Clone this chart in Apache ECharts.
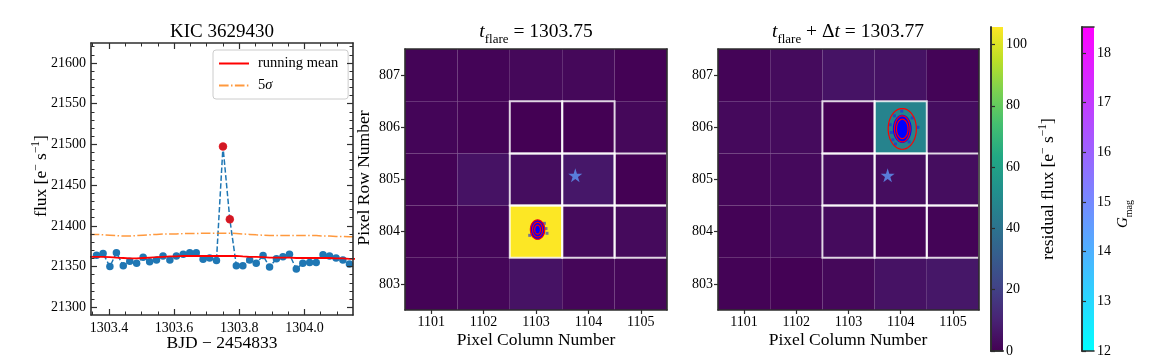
<!DOCTYPE html>
<html><head><meta charset="utf-8">
<script src="https://cdn.jsdelivr.net/npm/echarts@6/dist/echarts.min.js"></script>
<style>html,body{margin:0;padding:0;background:#fff}#c{width:1152px;height:360px}</style>
</head><body><div id="c"></div>
<script>
// ---------------- DATA ----------------
const times = [1303.362,1303.382,1303.403,1303.423,1303.444,1303.464,1303.485,1303.505,1303.525,1303.546,1303.566,1303.587,1303.607,1303.628,1303.648,1303.668,1303.689,1303.709,1303.730,1303.750,1303.771,1303.791,1303.811,1303.832,1303.852,1303.873,1303.893,1303.914,1303.934,1303.954,1303.975,1303.995,1304.016,1304.036,1304.057,1304.077,1304.097,1304.118,1304.138];
const flux = [21364,21366,21350,21367,21351,21356.5,21354,21361.5,21356,21358,21363,21358,21363,21365,21367,21367,21359,21360.5,21357.5,21497.5,21408,21351,21351,21358,21354,21363.5,21349.5,21359.5,21362,21365,21347,21354,21355,21355,21364.5,21363,21360.5,21358,21353];
const flareTimes = [1303.750, 1303.771];
const flareFlux = [21497.5, 21408];
const edgeTimes = [1303.341, 1304.159];
const runMean = [21362,21362,21362,21361.5,21361,21360.5,21360,21360,21360.5,21361,21361.5,21362,21362.5,21362.5,21363,21363,21363,21363,21363,21363,21363,21363,21363,21362.5,21362,21362,21361.5,21361,21361,21361,21361,21360.5,21360.5,21360.5,21360.5,21360.5,21360.5,21360,21360,21359.5,21359.5];
const sigma5 = [21389.5,21389.5,21389,21388.5,21388,21387.5,21387.5,21388,21388.5,21389,21389.5,21390,21390,21390,21390.5,21390.5,21390.5,21391,21391,21391,21391,21391,21390.5,21390,21389.5,21389,21388.5,21388,21388,21388,21388,21388,21388,21388,21388,21387.5,21387.5,21387,21387,21386.5,21386.5];

const lcXTicks = [1303.4, 1303.6, 1303.8, 1304.0];
const lcYTicks = [21300, 21350, 21400, 21450, 21500, 21550, 21600];

const pixCols = [1101, 1102, 1103, 1104, 1105];
const pixRows = [807, 806, 805, 804, 803];
// residual flux, rows top->bottom (807..803), cols 1101..1105
const resFluxA = [
  [1.0, 1.0, 2.0, 2.0, 0.3],
  [1.2, 0.5, 0.0, 0.0, 2.0],
  [0.5, 5.0, 3.5, 6.6, 0.0],
  [0.0, 1.2, 105.5, 2.6, 2.6],
  [0.5, 1.5, 5.0, 1.5, 1.5]
];
const resFluxB = [
  [1.0, 3.0, 5.5, 5.0, 1.0],
  [2.5, 3.0, 0.0, 47.0, 3.5],
  [1.5, 2.5, 3.0, 3.5, 3.5],
  [0.5, 2.5, 3.0, 1.0, 1.0],
  [0.5, 0.3, 2.0, 5.0, 6.5]
];
const aperture = [[1103,806],[1104,806],[1103,805],[1104,805],[1105,805],[1103,804],[1104,804],[1105,804]];
const starPos = [1103.75, 805.08];
// centroid clouds: [cx, cy, rx, ry]
const blobFillA = [[1103.03, 804.04, 0.14, 0.19]];
const contoursA = [[1103.03, 804.04, 0.137, 0.185],[1103.03, 804.04, 0.096, 0.14],[1103.03, 804.04, 0.055, 0.086]];
const cloudPtsA = [[1103.21,803.97],[1103.19,804.06],[1102.88,803.93],[1103.16,804.16]];
const blobFillB = [[1104.03, 805.97, 0.18, 0.27]];
const contoursB = [[1104.03, 805.97, 0.27, 0.39],[1104.03, 805.97, 0.15, 0.25],[1104.03, 805.97, 0.11, 0.185]];
const cloudPtsB = [[1103.80,806.05],[1103.82,805.90],[1103.85,805.76],[1103.90,805.68],[1104.33,806.00],[1104.22,806.18],[1104.02,806.31],[1104.16,805.72],[1103.88,806.22]];

const resFluxMax = 105.7;
const cbResTicks = [0, 20, 40, 60, 80, 100];
const gmagRange = [12, 18.52];
const cbGTicks = [12, 13, 14, 15, 16, 17, 18];

// ---------------- STYLE ----------------
const FONT = 'Liberation Serif';
const AX = '#2e2e2e';
const viridis = ['#440154','#482475','#414487','#355f8d','#2a788e','#21918c','#22a884','#44bf70','#7ad151','#bddf26','#fde725'];

const chart = echarts.init(document.getElementById('c'), null, {renderer: 'canvas'});

function heatData(m) {
  const out = [];
  pixRows.forEach((r, i) => pixCols.forEach((c, j) => out.push([c, r, m[i][j]])));
  return out;
}
function minorList(a, b, step) {
  const out = []; const n = Math.round((b - a) / step);
  for (let k = 0; k <= n; k++) out.push(+(a + k * step).toFixed(4));
  return out;
}
const lcXMinor = minorList(1303.35, 1304.10, 0.05);
const lcYMinor = minorList(21290, 21620, 10);

function ellipsePoints(c, r) {
  const pts = [];
  for (let k = 0; k < 64; k++) {
    const a = k / 64 * Math.PI * 2;
    pts.push([c[0] + r[0] * Math.cos(a), c[1] + r[1] * Math.sin(a)]);
  }
  return pts;
}

const lineAx = {show: true, lineStyle: {color: AX, width: 1.6}};
const noTick = {show: false};
const noLab = {show: false};
const noSplit = {show: false};
const labStyle = {fontFamily: FONT, fontSize: 14, color: '#000'};

function frameAxis(gridIndex, position, min, max) {
  return {gridIndex, type: 'value', position, min, max, z: 10, axisLine: lineAx, axisTick: noTick, axisLabel: noLab, splitLine: noSplit};
}

const xAxes = [
  {gridIndex: 0, type: 'value', position: 'bottom', min: 1303.345, max: 1304.149, z: 10, axisLine: lineAx,
   axisTick: {show: true, inside: true, length: 6, customValues: lcXTicks, lineStyle: {color: AX, width: 1.2}},
   axisLabel: Object.assign({customValues: lcXTicks, margin: 6, formatter: v => v.toFixed(1)}, labStyle), splitLine: noSplit},
  {gridIndex: 0, type: 'value', position: 'bottom', min: 1303.345, max: 1304.149, z: 10, axisLine: {show: false},
   axisTick: {show: true, inside: true, length: 3.5, customValues: lcXMinor, lineStyle: {color: AX, width: 1}}, axisLabel: noLab, splitLine: noSplit},
  {gridIndex: 0, type: 'value', position: 'top', min: 1303.345, max: 1304.149, z: 10, axisLine: lineAx,
   axisTick: {show: true, inside: true, length: 6, customValues: lcXTicks, lineStyle: {color: AX, width: 1.2}}, axisLabel: noLab, splitLine: noSplit},
  {gridIndex: 0, type: 'value', position: 'top', min: 1303.345, max: 1304.149, z: 10, axisLine: {show: false},
   axisTick: {show: true, inside: true, length: 3.5, customValues: lcXMinor, lineStyle: {color: AX, width: 1}}, axisLabel: noLab, splitLine: noSplit},
  {gridIndex: 1, type: 'value', position: 'bottom', min: 1100.5, max: 1105.5, z: 10, axisLine: lineAx,
   axisTick: {show: true, inside: false, length: 4, customValues: pixCols, lineStyle: {color: AX, width: 1.2}},
   axisLabel: Object.assign({customValues: pixCols, margin: 5, formatter: v => String(v)}, labStyle), splitLine: noSplit},
  frameAxis(1, 'top', 1100.5, 1105.5),
  {gridIndex: 2, type: 'value', position: 'bottom', min: 1100.5, max: 1105.5, z: 10, axisLine: lineAx,
   axisTick: {show: true, inside: false, length: 4, customValues: pixCols, lineStyle: {color: AX, width: 1.2}},
   axisLabel: Object.assign({customValues: pixCols, margin: 5, formatter: v => String(v)}, labStyle), splitLine: noSplit},
  frameAxis(2, 'top', 1100.5, 1105.5),
  frameAxis(3, 'bottom', 0, 1), frameAxis(3, 'top', 0, 1),
  frameAxis(4, 'bottom', 0, 1), frameAxis(4, 'top', 0, 1)
];

const yAxes = [
  {gridIndex: 0, type: 'value', position: 'left', min: 21290.5, max: 21624.6, z: 10, axisLine: lineAx,
   axisTick: {show: true, inside: true, length: 6, customValues: lcYTicks, lineStyle: {color: AX, width: 1.2}},
   axisLabel: Object.assign({customValues: lcYTicks, margin: 5, formatter: v => String(v)}, labStyle), splitLine: noSplit},
  {gridIndex: 0, type: 'value', position: 'left', min: 21290.5, max: 21624.6, z: 10, axisLine: {show: false},
   axisTick: {show: true, inside: true, length: 3.5, customValues: lcYMinor, lineStyle: {color: AX, width: 1}}, axisLabel: noLab, splitLine: noSplit},
  {gridIndex: 0, type: 'value', position: 'right', min: 21290.5, max: 21624.6, z: 10, axisLine: lineAx,
   axisTick: {show: true, inside: true, length: 6, customValues: lcYTicks, lineStyle: {color: AX, width: 1.2}}, axisLabel: noLab, splitLine: noSplit},
  {gridIndex: 0, type: 'value', position: 'right', min: 21290.5, max: 21624.6, z: 10, axisLine: {show: false},
   axisTick: {show: true, inside: true, length: 3.5, customValues: lcYMinor, lineStyle: {color: AX, width: 1}}, axisLabel: noLab, splitLine: noSplit},
  {gridIndex: 1, type: 'value', position: 'left', min: 802.5, max: 807.5, z: 10, axisLine: lineAx,
   axisTick: {show: true, inside: false, length: 4, customValues: pixRows, lineStyle: {color: AX, width: 1.2}},
   axisLabel: Object.assign({customValues: pixRows, margin: 5, formatter: v => String(v)}, labStyle), splitLine: noSplit},
  frameAxis(1, 'right', 802.5, 807.5),
  {gridIndex: 2, type: 'value', position: 'left', min: 802.5, max: 807.5, z: 10, axisLine: lineAx,
   axisTick: {show: true, inside: false, length: 4, customValues: pixRows, lineStyle: {color: AX, width: 1.2}},
   axisLabel: Object.assign({customValues: pixRows, margin: 5, formatter: v => String(v)}, labStyle), splitLine: noSplit},
  frameAxis(2, 'right', 802.5, 807.5),
  frameAxis(3, 'left', 0, resFluxMax),
  {gridIndex: 3, type: 'value', position: 'right', min: 0, max: resFluxMax, z: 10, axisLine: lineAx,
   axisTick: {show: true, inside: false, length: 4, customValues: cbResTicks, lineStyle: {color: AX, width: 1.2}},
   axisLabel: Object.assign({customValues: cbResTicks, margin: 3, formatter: v => String(v)}, labStyle), splitLine: noSplit},
  frameAxis(4, 'left', gmagRange[0], gmagRange[1]),
  {gridIndex: 4, type: 'value', position: 'right', min: gmagRange[0], max: gmagRange[1], z: 10, axisLine: lineAx,
   axisTick: {show: true, inside: false, length: 4, customValues: cbGTicks, lineStyle: {color: AX, width: 1.2}},
   axisLabel: Object.assign({customValues: cbGTicks, margin: 3, formatter: v => String(v)}, labStyle), splitLine: noSplit}
];

function cellRender(params, api) {
  const c = api.value(0), r = api.value(1);
  const p0 = api.coord([c - 0.5, r + 0.5]);
  const p1 = api.coord([c + 0.5, r - 0.5]);
  return {type: 'rect', shape: {x: p0[0], y: p0[1], width: p1[0] - p0[0], height: p1[1] - p0[1]},
          style: {fill: api.visual('color'), stroke: null}};
}
function apRender(params, api) {
  const c = api.value(0), r = api.value(1);
  const p0 = api.coord([c - 0.5, r + 0.5]);
  const p1 = api.coord([c + 0.5, r - 0.5]);
  return {type: 'rect', shape: {x: p0[0], y: p0[1], width: p1[0] - p0[0], height: p1[1] - p0[1]},
          style: {fill: null, stroke: 'rgba(255,255,255,0.8)', lineWidth: 2}};
}
function ellipseRender(fill, stroke, lw) {
  return function (params, api) {
    const c = api.coord([api.value(0), api.value(1)]);
    const s = api.size([api.value(2), api.value(3)]);
    return {type: 'polygon', shape: {points: ellipsePoints(c, s)},
            style: {fill: fill, stroke: stroke, lineWidth: lw}};
  };
}
function cbRender(stops) {
  return function (params, api) {
    const p0 = api.coord([0, api.value(1)]);
    const p1 = api.coord([1, api.value(0)]);
    return {type: 'rect', shape: {x: p0[0], y: p0[1], width: p1[0] - p0[0], height: p1[1] - p0[1]},
            style: {fill: new echarts.graphic.LinearGradient(0, 1, 0, 0, stops)}};
  };
}
const starPath = 'path://M50,0 L61.2,34.5 L97.6,34.5 L68.2,55.9 L79.4,90.5 L50,69.1 L20.6,90.5 L31.8,55.9 L2.4,34.5 L38.8,34.5 Z';

function pixelPanelSeries(g, heat, fill, pts, conts) {
  const ax = {xAxisIndex: g === 1 ? 4 : 6, yAxisIndex: g === 1 ? 4 : 6};
  return [
    Object.assign({type: 'custom', renderItem: cellRender, data: heatData(heat), encode: {x: 0, y: 1}, z: 1}, ax),
    Object.assign({type: 'custom', renderItem: apRender, data: aperture, encode: {x: 0, y: 1}, z: 3, clip: true}, ax),
    Object.assign({type: 'custom', renderItem: ellipseRender('#0000ff', null, 0), data: fill, encode: {x: 0, y: 1}, z: 4}, ax),
    Object.assign({type: 'scatter', symbol: 'rect', symbolSize: 3, data: pts, itemStyle: {color: 'rgba(20,40,230,0.75)'}, z: 4, silent: true}, ax),
    Object.assign({type: 'custom', renderItem: ellipseRender(null, '#ff0000', 1.2), data: conts, encode: {x: 0, y: 1}, z: 5}, ax),
    Object.assign({type: 'scatter', symbol: starPath, symbolSize: 14, data: [starPos], itemStyle: {color: '#5e97f6'}, z: 6}, ax)
  ];
}

const lcPoints = times.map((t, i) => [t, flux[i]]);
const lineT = [edgeTimes[0]].concat(times, [edgeTimes[1]]);

const series = [
  {type: 'line', name: 'data', xAxisIndex: 0, yAxisIndex: 0, data: lcPoints, symbol: 'circle', symbolSize: 7.5,
   itemStyle: {color: '#1f77b4'}, lineStyle: {color: '#1f77b4', width: 1.5, type: [5.5, 2.4]}, z: 3},
  {type: 'scatter', name: 'flare', xAxisIndex: 0, yAxisIndex: 0, data: flareTimes.map((t, i) => [t, flareFlux[i]]),
   symbol: 'circle', symbolSize: 8.5, itemStyle: {color: '#ff0000'}, z: 6},
  {type: 'line', name: 'running mean', xAxisIndex: 0, yAxisIndex: 0, data: lineT.map((t, i) => [t, runMean[i]]),
   symbol: 'none', lineStyle: {color: '#ff0000', width: 1.8}, itemStyle: {color: '#ff0000'}, z: 4},
  {type: 'line', name: '5σ', xAxisIndex: 0, yAxisIndex: 0, data: lineT.map((t, i) => [t, sigma5[i]]),
   symbol: 'none', lineStyle: {color: 'rgba(255,127,14,0.8)', width: 1.5, type: [9.6, 2.4, 1.5, 2.4]}, itemStyle: {color: 'rgba(255,127,14,0.8)'}, z: 4}
].concat(
  pixelPanelSeries(1, resFluxA, blobFillA, cloudPtsA, contoursA),
  pixelPanelSeries(2, resFluxB, blobFillB, cloudPtsB, contoursB),
  [
    {type: 'custom', xAxisIndex: 8, yAxisIndex: 9, renderItem: cbRender(viridis.map((c, i) => ({offset: i / (viridis.length - 1), color: c}))),
     data: [[0, resFluxMax]], encode: {y: [0, 1]}, z: 1, silent: true},
    {type: 'custom', xAxisIndex: 10, yAxisIndex: 11, renderItem: cbRender([{offset: 0, color: '#00ffff'}, {offset: 1, color: '#ff00ff'}]),
     data: [[gmagRange[0], gmagRange[1]]], encode: {y: [0, 1]}, z: 1, silent: true}
  ]
);

const sup = {fontFamily: FONT, fontSize: 11.5, color: '#000', verticalAlign: 'bottom', padding: [0, 0, 8, 0]};
const base16 = {fontFamily: FONT, fontSize: 17.5, color: '#000', verticalAlign: 'bottom'};
const baseLift = {fontFamily: FONT, fontSize: 19.5, color: '#000', verticalAlign: 'bottom', padding: [0, 0, 4, 0]};
const itLift = {fontFamily: FONT, fontSize: 19.5, fontStyle: 'italic', color: '#000', verticalAlign: 'bottom', padding: [0, 0, 4, 0]};
const sub = {fontFamily: FONT, fontSize: 13, color: '#000', verticalAlign: 'bottom'};

function txt(x, y, text, rich, rot) {
  return {type: 'text', x: x, y: y, rotation: rot || 0, z: 20,
          style: {text: text, rich: rich, fill: '#000', fontFamily: FONT, fontSize: 17,
                  align: 'center', verticalAlign: 'middle', textAlign: 'center', textVerticalAlign: 'middle'}};
}

const graphics = [
  txt(222, 32, '{b|KIC 3629430}', {b: {fontFamily: FONT, fontSize: 19, color: '#000'}}),
  txt(40, 176, '{b|flux [e}{s|−}{b| s}{s|−1}{b|]}', {b: base16, s: sup}, Math.PI / 2),
  txt(222, 343, '{b|BJD − 2454833}', {b: base16}),
  txt(536, 34, '{i|t}{u|flare}{b| = 1303.75}', {i: itLift, u: sub, b: baseLift}),
  txt(364, 178, '{b|Pixel Row Number}', {b: base16}, Math.PI / 2),
  txt(536, 340, '{b|Pixel Column Number}', {b: base16}),
  txt(848, 34, '{i|t}{u|flare}{b| + Δ}{i|t}{b| = 1303.77}', {i: itLift, u: sub, b: baseLift}),
  txt(848, 340, '{b|Pixel Column Number}', {b: base16}),
  txt(1047, 189, '{b|residual flux [e}{s|−}{b| s}{s|−1}{b|]}', {b: base16, s: sup}, Math.PI / 2),
  txt(1125, 214, '{i|G}{u|mag}', {i: {fontFamily: FONT, fontSize: 15, fontStyle: 'italic', color: '#000', verticalAlign: 'bottom', padding: [0, 0, 3, 0]}, u: {fontFamily: FONT, fontSize: 10, color: '#000', verticalAlign: 'bottom'}}, Math.PI / 2)
];

chart.setOption({
  animation: false,
  backgroundColor: '#fff',
  grid: [
    {left: 91, top: 43, width: 262, height: 272},
    {left: 405, top: 49, width: 262, height: 261},
    {left: 718, top: 49, width: 261, height: 261},
    {left: 991, top: 27, width: 12, height: 324},
    {left: 1082, top: 27, width: 12, height: 324}
  ],
  xAxis: xAxes,
  yAxis: yAxes,
  visualMap: [{type: 'continuous', show: false, seriesIndex: [4, 10], dimension: 2, min: 0, max: resFluxMax, inRange: {color: viridis}}],
  legend: {
    left: 213, top: 50, orient: 'vertical', data: ['running mean', '5σ'],
    itemWidth: 30, itemHeight: 12, itemGap: 7, backgroundColor: '#fff', borderColor: '#cccccc', borderWidth: 1, borderRadius: 3,
    padding: [6, 10, 6, 5],
    itemStyle: {opacity: 0},
    formatter: n => n === '5σ' ? '{n|5}{i|σ}' : '{n|' + n + '}',
    textStyle: {fontFamily: FONT, fontSize: 14.5, color: '#000', padding: [0, 0, 0, 4],
      rich: {n: {fontFamily: FONT, fontSize: 14.5, color: '#000'}, i: {fontFamily: FONT, fontSize: 14.5, fontStyle: 'italic', color: '#000'}}}
  },
  graphic: graphics,
  series: series
});
</script></body></html>
